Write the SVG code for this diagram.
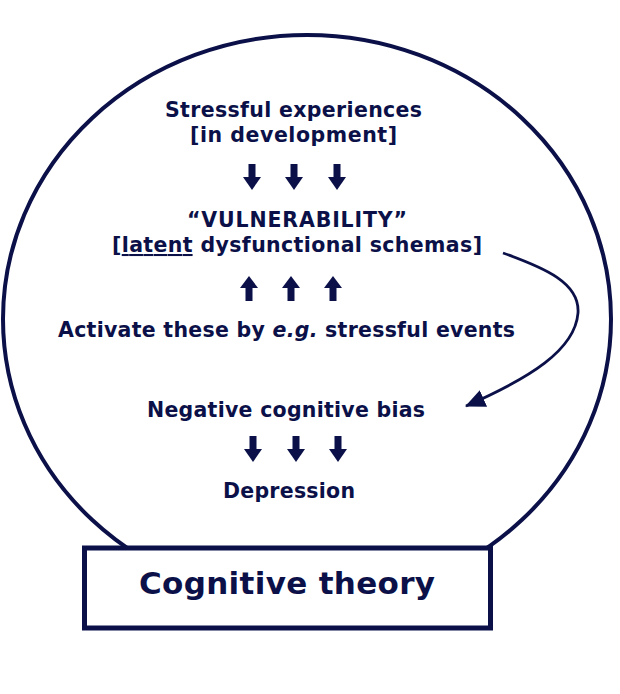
<svg xmlns="http://www.w3.org/2000/svg" width="620" height="694" viewBox="0 0 620 694">
<style>
.t{font-family:"DejaVu Sans","Verdana",sans-serif;font-weight:bold;fill:#0b1148;text-anchor:middle}
.s20{font-size:20.5px}
.ln{fill:none;stroke:#0b1148}
.ar{fill:#0b1148}
</style>
<defs>
<g id="down"><rect x="-3.5" y="0" width="7" height="14"/><polygon points="-9,13 9,13 0,26"/></g>
<g id="up"><rect x="-3.5" y="11" width="7" height="14"/><polygon points="-9,12 9,12 0,0"/></g>
<marker id="head" viewBox="0 0 20 18" refX="19" refY="9" markerWidth="20" markerHeight="18" markerUnits="userSpaceOnUse" orient="auto">
<polygon points="0,0 20,9 0,18" fill="#0b1148"/>
</marker>
</defs>
<rect width="620" height="694" fill="#ffffff"/>
<g id="frame">
<ellipse cx="307" cy="319" rx="304" ry="284" class="ln" stroke-width="4"/>
</g>
<g id="title">
<rect x="84.5" y="548" width="406" height="80" fill="#ffffff" stroke="#0b1148" stroke-width="5"/>
<text class="t" x="287" y="594" font-size="31" textLength="296" lengthAdjust="spacing">Cognitive theory</text>
</g>
<g id="stress">
<text class="t s20" x="293.5" y="117" textLength="257" lengthAdjust="spacing">Stressful experiences</text>
<text class="t s20" x="293.5" y="142" textLength="207" lengthAdjust="spacing">[in development]</text>
</g>
<g id="vulnerability">
<text class="t s20" x="297" y="227" textLength="220" lengthAdjust="spacing">“VULNERABILITY”</text>
<text class="t s20" x="297" y="252" textLength="370" lengthAdjust="spacing">[<tspan text-decoration="underline">latent</tspan> dysfunctional schemas]</text>
</g>
<g id="activate">
<text class="t s20" x="286.5" y="337" textLength="457" lengthAdjust="spacing">Activate these by <tspan font-style="italic">e.g.</tspan> stressful events</text>
</g>
<g id="bias">
<text class="t s20" x="286" y="417" textLength="278" lengthAdjust="spacing">Negative cognitive bias</text>
</g>
<g id="depression">
<text class="t s20" x="289" y="498" textLength="132" lengthAdjust="spacing">Depression</text>
</g>
<g id="connectors" class="ar">
<use href="#down" x="252" y="164"/>
<use href="#down" x="294" y="164"/>
<use href="#down" x="337" y="164"/>
<use href="#up" x="249" y="276"/>
<use href="#up" x="291" y="276"/>
<use href="#up" x="333" y="276"/>
<use href="#down" x="253" y="436"/>
<use href="#down" x="296" y="436"/>
<use href="#down" x="338" y="436"/>
<path d="M 503 253 C 545 268, 580 283, 578 313 C 575 350, 530 378, 466 406" class="ln" stroke-width="2.8" marker-end="url(#head)"/>
</g>
</svg>
